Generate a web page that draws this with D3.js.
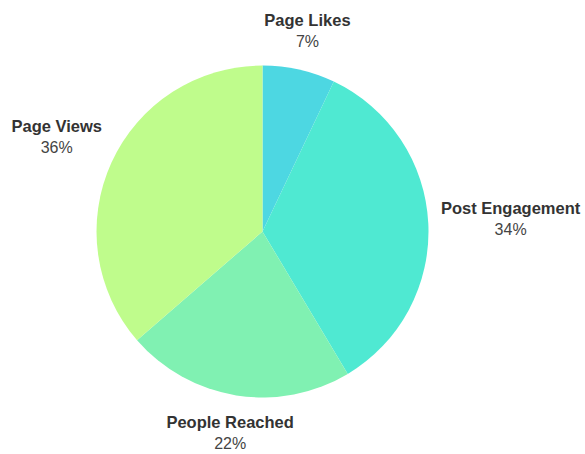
<!DOCTYPE html>
<html>
<head>
<meta charset="utf-8">
<script src="https://cdn.jsdelivr.net/npm/d3@7"></script>
<style>
  html, body { margin: 0; padding: 0; background: #ffffff; }
  svg { display: block; }
</style>
</head>
<body>
<svg id="chart" width="585" height="454"></svg>
<script>
const categories = ["Page Likes", "Post Engagement", "People Reached", "Page Views"];
const values = [7, 34, 22, 36];
const colors = ["#4dd7e2", "#4fe9d2", "#80f1b2", "#bffc8c"];

const width = 585, height = 454;
const cx = 262.5, cy = 231.5, radius = 166;

const svg = d3.select("#chart");
const data = categories.map((c, i) => ({ name: c, value: values[i], color: colors[i] }));

const pie = d3.pie().value(d => d.value).sort(null);
const arc = d3.arc().innerRadius(0).outerRadius(radius);
const arcs = pie(data);

const g = svg.append("g").attr("transform", `translate(${cx},${cy})`);

g.selectAll("path.slice")
  .data(arcs)
  .join("path")
  .attr("class", "slice")
  .attr("d", arc)
  .attr("fill", d => d.data.color);

const font = "'Liberation Sans', Arial, sans-serif";
const gap = 12;

arcs.forEach(a => {
  const mid = (a.startAngle + a.endAngle) / 2;
  const s = Math.sin(mid), c = Math.cos(mid);
  const lg = g.append("g");
  const t1 = lg.append("text")
    .attr("text-anchor", "middle")
    .attr("font-family", font)
    .attr("font-weight", "bold")
    .attr("font-size", "16.5px")
    .attr("fill", "#333333")
    .text(a.data.name);
  const t2 = lg.append("text")
    .attr("text-anchor", "middle")
    .attr("font-family", font)
    .attr("font-size", "16px")
    .attr("fill", "#444444")
    .text(Math.round(a.data.value) + "%");
  const w = Math.max(t1.node().getComputedTextLength(), t2.node().getComputedTextLength());
  const h = 34;
  const d = radius + gap + Math.abs(s) * w / 2 + Math.abs(c) * h / 2;
  const x = s * d, y = -c * d;
  t1.attr("x", x).attr("y", y - 6);
  t2.attr("x", x).attr("y", y + 15);
});
</script>
</body>
</html>
